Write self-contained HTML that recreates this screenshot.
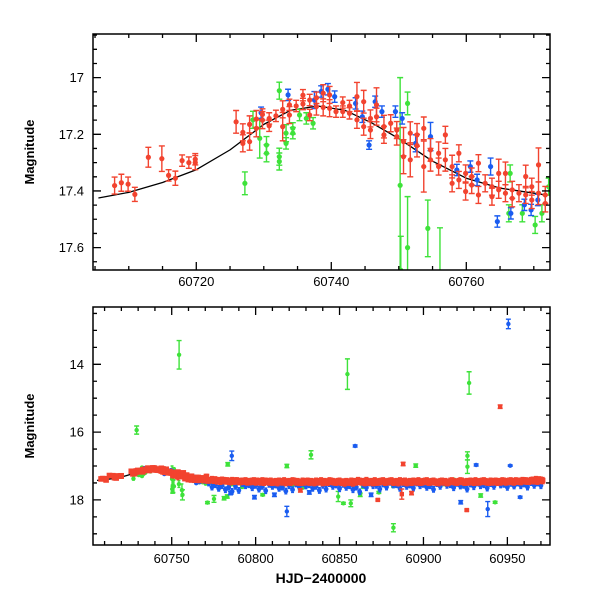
<!DOCTYPE html>
<html><head><meta charset="utf-8"><style>
html,body{margin:0;padding:0;background:#fff;}
svg text{font-family:"Liberation Sans",sans-serif;fill:#000;}
</style></head><body>
<svg id="chart" width="600" height="600" viewBox="0 0 600 600" xmlns="http://www.w3.org/2000/svg">
<defs>
<clipPath id="clipTop"><rect x="93" y="34" width="457" height="236"/></clipPath>
<clipPath id="clipBot"><rect x="93" y="307" width="457" height="238"/></clipPath>
</defs>
<g id="top"></g>
<g id="bot"></g>
<text x="34" y="152" font-size="13" font-weight="bold" text-anchor="middle" transform="rotate(-90 34 152)">Magnitude</text>
<text x="34" y="426" font-size="13" font-weight="bold" text-anchor="middle" transform="rotate(-90 34 426)">Magnitude</text>
<text x="321" y="583" font-size="14" font-weight="bold" text-anchor="middle">HJD−2400000</text>
</svg>
<script>
// ---- data ----
const topRed = [[60707.9,17.381,0.03],[60708.9,17.371,0.03],[60709.9,17.376,0.025],[60710.9,17.412,0.025],[60712.9,17.281,0.035],[60714.9,17.286,0.045],[60715.9,17.345,0.02],[60716.9,17.355,0.025],[60717.9,17.293,0.02],[60718.9,17.30,0.02],[60719.85,17.30,0.025],[60719.85,17.288,0.02],
[60725.9,17.156,0.04],[60726.9,17.193,0.03],[60726.9,17.232,0.03],[60727.9,17.165,0.03],[60727.9,17.226,0.03],[60728.9,17.146,0.03],[60728.9,17.179,0.03],[60729.8,17.13,0.02],[60729.8,17.15,0.03],[60730.8,17.144,0.02],[60730.8,17.17,0.02],[60731.8,17.135,0.02],[60732.8,17.112,0.03],[60732.8,17.173,0.05],[60733.8,17.096,0.02],[60733.8,17.132,0.03],[60734.8,17.10,0.02],[60735.8,17.062,0.02],[60735.8,17.093,0.02],[60736.8,17.079,0.02],[60736.8,17.132,0.02],[60737.8,17.071,0.02],[60737.8,17.102,0.03],[60738.8,17.055,0.03],[60738.8,17.105,0.03],[60739.75,17.061,0.03],[60739.75,17.108,0.03],[60740.7,17.12,0.02],[60741.7,17.088,0.02],[60741.7,17.12,0.02],[60742.7,17.10,0.02],[60742.7,17.126,0.02],[60743.8,17.067,0.05],[60743.8,17.149,0.03],[60744.8,17.085,0.04],[60744.8,17.173,0.03],[60745.8,17.144,0.03],[60745.8,17.185,0.03],[60746.7,17.096,0.06],[60746.7,17.138,0.03],[60747.8,17.173,0.04],[60747.8,17.202,0.03],[60748.8,17.161,0.03],[60749.7,17.185,0.03],[60749.7,17.208,0.03],[60750.7,17.226,0.05],[60750.7,17.279,0.06],[60751.7,17.196,0.04],[60751.7,17.29,0.06],[60752.7,17.202,0.04],[60752.7,17.24,0.04],[60753.7,17.179,0.04],[60753.7,17.314,0.09],[60754.7,17.255,0.04],[60754.7,17.29,0.04],[60755.9,17.267,0.04],[60755.9,17.314,0.03],[60756.9,17.202,0.03],[60756.9,17.29,0.04],[60757.9,17.314,0.04],[60757.9,17.373,0.03],[60758.9,17.267,0.03],[60758.9,17.361,0.03],[60759.9,17.338,0.03],[60759.9,17.402,0.03],[60760.8,17.349,0.03],[60760.8,17.379,0.03],[60761.8,17.302,0.03],[60761.8,17.414,0.03],[60762.8,17.373,0.03],[60763.8,17.385,0.03],[60763.8,17.42,0.03],[60764.8,17.338,0.05],[60764.8,17.396,0.03],[60765.8,17.338,0.04],[60765.8,17.408,0.03],[60766.8,17.396,0.03],[60766.8,17.426,0.03],[60767.8,17.408,0.03],[60768.8,17.349,0.04],[60768.8,17.414,0.03],[60769.7,17.385,0.03],[60769.7,17.432,0.03],[60770.7,17.308,0.06],[60770.7,17.408,0.04],[60771.7,17.414,0.03],[60771.7,17.444,0.03]];
const topBlue = [[60729.6,17.124,0.02],[60733.6,17.061,0.02],[60737.5,17.079,0.03],[60738.5,17.049,0.02],[60739.5,17.041,0.02],[60740.5,17.067,0.02],[60743.6,17.091,0.02],[60744.6,17.138,0.02],[60745.6,17.238,0.015],[60746.5,17.085,0.02],[60747.5,17.12,0.02],[60749.5,17.12,0.02],[60750.5,17.144,0.02],[60752.5,17.232,0.03],[60754.7,17.208,0.05],[60758.6,17.326,0.02],[60760.6,17.314,0.02],[60761.6,17.361,0.02],[60763.6,17.314,0.03],[60764.6,17.508,0.02],[60766.6,17.479,0.02],[60768.6,17.449,0.02],[60769.6,17.467,0.02],[60770.6,17.432,0.02]];
const topGreen = [[60727.2,17.373,0.04],[60728.4,17.149,0.03],[60729.4,17.214,0.07],[60730.4,17.238,0.03],[60730.4,17.267,0.03],[60732.3,17.046,0.03],[60732.3,17.279,0.03],[60732.3,17.296,0.03],[60733.3,17.196,0.03],[60733.3,17.232,0.02],[60734.3,17.179,0.02],[60734.3,17.196,0.02],[60735.3,17.132,0.02],[60736.3,17.144,0.02],[60737.3,17.161,0.02],[60750.2,17.38,0.38],[60750.3,17.68,0.12],[60751.3,17.091,0.04],[60751.3,17.6,0.18],[60754.3,17.532,0.1],[60756.1,17.71,0.18],[60766.3,17.479,0.03],[60766.5,17.338,0.03],[60768.3,17.479,0.03],[60770.2,17.52,0.03],[60771.2,17.479,0.03],[60772.2,17.385,0.03]];
const fitDays = [60705.5,60710,60715,60720,60725,60730,60734,60738,60742,60746,60750,60755,60760,60765,60772];
const fitMags = [17.425,17.405,17.37,17.325,17.255,17.165,17.115,17.1,17.115,17.16,17.215,17.295,17.355,17.39,17.415];
const bandRedStart = 60774, bandRedStep = 2;
const bandRed = [17.40,17.41,17.43,17.42,17.44,17.45,17.43,17.44,17.46,17.45,17.44,17.46,17.45,17.47,17.46,17.44,17.45,17.47,17.48,17.46,17.45,17.47,17.49,17.46,17.44,17.47,17.48,17.45,17.46,17.48,17.47,17.45,17.46,17.49,17.47,17.44,17.46,17.48,17.45,17.47,17.46,17.48,17.50,17.47,17.45,17.46,17.43,17.47,17.49,17.48,17.46,17.44,17.47,17.45,17.48,17.46,17.44,17.47,17.49,17.46,17.45,17.47,17.48,17.46,17.44,17.47,17.45,17.48,17.46,17.47,17.49,17.45,17.46,17.48,17.44,17.47,17.46,17.45,17.48,17.47,17.46,17.44,17.47,17.45,17.46,17.48,17.47,17.45,17.46,17.44,17.47,17.45,17.46,17.44,17.45,17.43,17.44,17.45,17.42];
const bandBlueStart = 60772, bandBlueStep = 4;
const bandBlue = [17.50,17.55,17.58,17.62,17.60,17.52,17.55,17.57,17.60,17.54,17.56,17.62,17.58,17.53,17.51,17.55,17.60,17.57,17.52,17.56,17.54,17.58,17.62,17.55,17.50,17.57,17.53,17.48,17.55,17.52,17.56,17.50,17.54,17.58,17.52,17.49,17.55,17.51,17.57,17.53,17.50,17.55,17.52,17.48,17.54,17.51,17.50,17.53,17.49,17.50];
const bandBlue2Start = 60774, bandBlue2Step = 4;
const bandBlue2 = [17.62,17.66,17.70,17.75,17.72,17.58,17.64,17.68,17.73,17.60,17.66,17.74,17.70,17.62,17.59,17.66,17.72,17.68,17.60,17.67,17.63,17.70,17.76,17.64,17.58,17.68,17.62,17.56,17.66,17.60,17.65,17.58,17.63,17.69,17.60,17.57,17.64,17.59,17.68,17.61,17.58,17.65,17.60,17.56,17.63,17.59,17.58,17.62,17.57,17.58];
const bandGreenStart = 60774, bandGreenStep = 6;
const bandGreen = [17.48,17.55,17.52,17.60,17.45,17.50,17.58,17.47,17.53,17.62,17.49,17.44,17.56,17.51,17.47,17.60,17.53,17.46,17.58,17.50,17.45,17.55,17.48,17.52,17.42,17.57,17.50,17.46,17.54,17.49,17.52,17.47,17.50];
const botGreen = [[60754.4,13.72,0.42],[60729.1,15.94,0.12],[60854.7,14.29,0.45],[60927.2,14.55,0.33],[60833.0,16.67,0.12],[60926.2,16.7,0.12],[60926.2,17.02,0.2],[60895.4,16.99,0.05],[60783.4,16.95,0.05],[60818.6,17.0,0.05],[60882.1,18.82,0.12],[60771.3,18.08,0.03],[60775.2,17.97,0.1],[60781.2,17.95,0.05],[60756.4,17.85,0.15],[60750.6,17.6,0.2],[60852.3,18.1,0.03],[60849.2,17.9,0.15],[60856.7,18.1,0.1],[60862.3,17.85,0.05],[60804.2,17.85,0.03],[60942.7,18.07,0.03],[60934.1,17.87,0.05],[60873.4,17.78,0.03],[60783.1,17.9,0.05]];
const botBlue = [[60950.6,12.81,0.14],[60859.3,16.41,0.03],[60785.8,16.7,0.14],[60931.4,16.97,0.03],[60951.7,16.99,0.02],[60818.6,18.34,0.15],[60938.3,18.27,0.22],[60799.3,17.92,0.05],[60922.2,18.07,0.05],[60957.6,17.92,0.03],[60868.8,17.85,0.05],[60832.0,17.78,0.05],[60811.2,17.85,0.05],[60785.0,17.8,0.05]];
const botRed = [[60945.7,15.25,0.05],[60887.9,16.94,0.05],[60925.8,18.3,0.03],[60872.8,18.0,0.03],[60887.1,17.83,0.15],[60892.9,17.8,0.05],[60826.7,17.72,0.05]];
const topXTicks = [60720,60740,60760];
const topYTicks = [17,17.2,17.4,17.6];
const topYLabels = ["17","17.2","17.4","17.6"];
const botXTicks = [60750,60800,60850,60900,60950];
const botYTicks = [14,16,18];
const botYLabels = ["14","16","18"];

// ---- axes ----
const NS="http://www.w3.org/2000/svg";
const RED="#f2432f", BLUE="#1a5cf0", GREEN="#3ee23a";
function lin(d0,d1,p0,p1){return v=>p0+(v-d0)*(p1-p0)/(d1-d0);}
const T={x:lin(60704.7,60772.4,93,550),y:lin(16.846,17.679,34,270),L:93,R:550,Tp:34,B:270};
const Bo={x:lin(60703.1,60975.4,93,550),y:lin(12.31,19.33,307,545),L:93,R:550,Tp:307,B:545};
function el(tag,attrs,parent){const e=document.createElementNS(NS,tag);for(const k in attrs)e.setAttribute(k,attrs[k]);parent.appendChild(e);return e;}

function axes(g,P,xMaj,xMin,xR,yMaj,yMin,yR,xTicks,yTicks,yLabels,xLabY){
  const frame=el('rect',{x:P.L,y:P.Tp,width:P.R-P.L,height:P.B-P.Tp,fill:'none',stroke:'#000','stroke-width':1.5},g);
  
  
  let path='';
  for(let v=Math.ceil(xR[0]/xMin)*xMin; v<=xR[1]; v+=xMin){
    const x=P.x(v), major=Math.abs(v/xMaj-Math.round(v/xMaj))<1e-6, len=major?8:4;
    path+=`M${x},${P.B}v${-len}M${x},${P.Tp}v${len}`;
  }
  for(let i=Math.ceil(yR[0]/yMin-1e-6); i*yMin<=yR[1]+1e-9; i++){
    const v=i*yMin, y=P.y(v), major=Math.abs(v/yMaj-Math.round(v/yMaj))<1e-6, len=major?8:4;
    path+=`M${P.L},${y}h${len}M${P.R},${y}h${-len}`;
  }
  const tk=el('path',{d:path,stroke:'#000','stroke-width':1.3,fill:'none'},g);
  
  
  xTicks.forEach(v=>{
    const t=el('text',{x:P.x(v),y:xLabY,'font-size':13,'text-anchor':'middle'},g);t.textContent=String(v);
    
    
  });
  yTicks.forEach((v,i)=>{
    const t=el('text',{x:84,y:P.y(v)+4.5,'font-size':13,'text-anchor':'end'},g);t.textContent=yLabels[i];
    
    
  });
}

function points(g,P,arr,color,r,cap,sq,name){
  const grp=el('g',{},g);
  
  
  arr.forEach(p=>{
    const x=P.x(p[0]), y=P.y(p[1]), y0=P.y(p[1]-p[2]), y1=P.y(p[1]+p[2]);
    el('path',{d:`M${x},${y0}V${y1}M${x-cap},${y0}h${2*cap}M${x-cap},${y1}h${2*cap}`,stroke:color,'stroke-width':1.4,fill:'none'},grp);
    const m = sq ? el('rect',{x:x-r,y:y-r,width:2*r,height:2*r,fill:color},grp) : el('circle',{cx:x,cy:y,r:r,fill:color},grp);
    
    
  });
}
function fitLine(g,P,name){
  let d='';fitDays.forEach((v,i)=>{d+=(i?'L':'M')+P.x(v)+','+P.y(fitMags[i]);});
  const p=el('path',{d:d,stroke:'#000','stroke-width':1.3,fill:'none','stroke-linejoin':'round'},g);
  
  
}
function band(start,step,vals,err){return vals.map((m,i)=>[start+i*step,m,err]);}

// top
const gt=document.getElementById('top');
const ct=el('g',{'clip-path':'url(#clipTop)'},gt);
fitLine(ct,T,'fit-curve-top');
points(ct,T,topGreen,GREEN,2.6,3,false,'green-series-top');
points(ct,T,topBlue,BLUE,2.6,3,false,'blue-series-top');
points(ct,T,topRed,RED,2.6,3,false,'red-series-top');
axes(gt,T,20,5,[60704.7,60772.4],0.2,0.05,[16.846,17.679],topXTicks,topYTicks,topYLabels,286);

// bottom
const gb=document.getElementById('bot');
const cb=el('g',{'clip-path':'url(#clipBot)'},gb);
fitLine(cb,Bo,'fit-curve-bottom');
points(cb,Bo,band(bandGreenStart,bandGreenStep,bandGreen,0.06),GREEN,2.2,1.5,true,'green-band');
points(cb,Bo,botGreen,GREEN,2.2,2.5,false,'green-series-bottom');
points(cb,Bo,topGreen,GREEN,2.2,1.5,false,'green-early-bottom');
points(cb,Bo,band(bandBlueStart,bandBlueStep,bandBlue,0.08),BLUE,2.4,1.5,false,'blue-band');
points(cb,Bo,band(bandBlue2Start,bandBlue2Step,bandBlue2,0.08),BLUE,2.4,1.5,false,'blue-band-2');
points(cb,Bo,botBlue,BLUE,2.2,2.5,false,'blue-series-bottom');
points(cb,Bo,topBlue,BLUE,2.2,1.5,false,'blue-early-bottom');
points(cb,Bo,band(bandRedStart,bandRedStep,bandRed,0.09),RED,2.8,2,true,'red-band');
points(cb,Bo,band(bandRedStart+1,bandRedStep,bandRed.map((m,i)=>bandRed[(i+3)%bandRed.length]),0.09),RED,2.8,2,true,'red-band-2');
points(cb,Bo,topRed,RED,2.8,1.5,true,'red-early-bottom');
points(cb,Bo,botRed,RED,2.2,2.5,true,'red-series-bottom');
axes(gb,Bo,50,10,[60703.1,60975.4],2,0.5,[12.31,19.33],botXTicks,botYTicks,botYLabels,563);
</script>
</body></html>
